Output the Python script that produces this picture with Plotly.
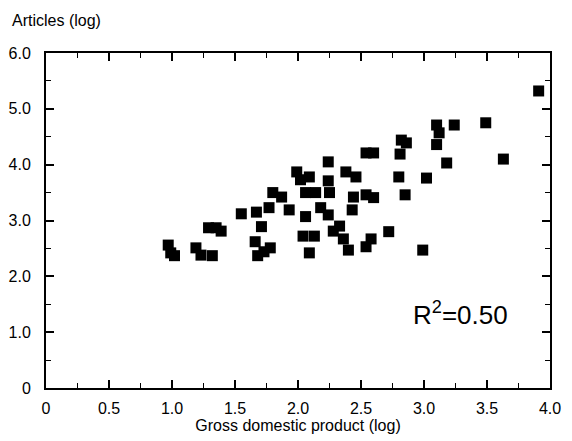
import plotly.graph_objects as go

# log GDP vs log article count
gdp_log = [0.97, 0.99, 1.02, 1.19, 1.23, 1.32, 1.29, 1.35, 1.39, 1.55,
           1.67, 1.77, 1.71, 1.66, 1.68, 1.78, 1.73, 1.80, 1.87, 1.93,
           1.99, 2.02, 2.09, 2.06, 2.14, 2.06, 2.24, 2.24, 2.25, 2.18,
           2.24, 2.38, 2.46, 2.04, 2.13, 2.09, 2.28, 2.33, 2.36, 2.40,
           2.44, 2.54, 2.60, 2.43, 2.58, 2.54, 2.72, 2.54, 2.60, 2.80,
           2.81, 2.82, 2.86, 2.85, 2.99, 3.02, 3.10, 3.12, 3.24, 3.10,
           3.18, 3.49, 3.63, 3.91]
articles_log = [2.56, 2.42, 2.37, 2.51, 2.38, 2.37, 2.87, 2.87, 2.81, 3.12,
                3.15, 3.23, 2.89, 2.62, 2.37, 2.51, 2.44, 3.50, 3.42, 3.19,
                3.87, 3.73, 3.78, 3.50, 3.50, 3.07, 4.05, 3.71, 3.50, 3.23,
                3.10, 3.87, 3.78, 2.72, 2.72, 2.42, 2.81, 2.90, 2.67, 2.47,
                3.42, 3.46, 3.41, 3.19, 2.67, 2.53, 2.80, 4.21, 4.21, 3.78,
                4.19, 4.44, 4.39, 3.46, 2.47, 3.76, 4.71, 4.57, 4.71, 4.36,
                4.03, 4.75, 4.10, 5.32]

x_ticks = [0, 0.5, 1.0, 1.5, 2.0, 2.5, 3.0, 3.5, 4.0]
x_labels = ["0", "0.5", "1.0", "1.5", "2.0", "2.5", "3.0", "3.5", "4.0"]
y_ticks = [0, 1, 2, 3, 4, 5, 6]
y_labels = ["0", "1.0", "2.0", "3.0", "4.0", "5.0", "6.0"]

r_squared = "R<sup>2</sup>=0.50"

FONT = "Liberation Sans, Arial, sans-serif"


def axis_style(tickvals, ticktext, rng, minor_step, standoff):
    return dict(
        range=rng,
        tickvals=tickvals,
        ticktext=ticktext,
        ticks="inside",
        ticklen=8,
        tickwidth=1.5,
        tickcolor="black",
        minor=dict(ticks="inside", ticklen=5, tickwidth=1.2,
                   tickcolor="black", dtick=minor_step),
        showline=True,
        linewidth=2,
        linecolor="black",
        mirror="ticks",
        showgrid=False,
        zeroline=False,
        automargin=False,
        ticklabelstandoff=standoff,
        ticklabeloverflow="allow",
        tickfont=dict(size=16, color="black", family=FONT),
    )


fig = go.Figure()
fig.add_trace(go.Scatter(
    x=gdp_log, y=articles_log, mode="markers",
    marker=dict(symbol="square", size=11, color="black"),
    showlegend=False,
))

xaxis = axis_style(x_ticks, x_labels, [0, 4], 0.25, 5)
xaxis["title"] = dict(text="Gross domestic product (log)",
                      font=dict(size=16, color="black", family=FONT), standoff=4)
yaxis = axis_style(y_ticks, y_labels, [0, 6], 0.5, 10)

# page body keeps its 8px margin, so the figure is 8px smaller than the window;
# right margin a bit wider so the last x label ("4.0") is not clipped
fig.update_layout(
    width=564, height=433,
    margin=dict(l=38, r=22, t=45, b=53),
    plot_bgcolor="white", paper_bgcolor="white",
    font=dict(family=FONT, color="black"),
    xaxis=xaxis, yaxis=yaxis,
    annotations=[
        dict(text="Articles (log)", xref="paper", yref="paper",
             x=-0.0714, y=1.098, xanchor="left", yanchor="middle",
             showarrow=False, font=dict(size=16, color="black", family=FONT)),
        dict(text=r_squared, xref="x", yref="y", x=3.29, y=1.34,
             showarrow=False, font=dict(size=26, color="black", family=FONT)),
    ],
)

# no scrollbars eating into the right edge
page_css = ("document.documentElement.style.overflow='hidden';"
            "document.body.style.overflow='hidden';")
fig.write_html("out.html", config={"displayModeBar": False}, post_script=page_css)
